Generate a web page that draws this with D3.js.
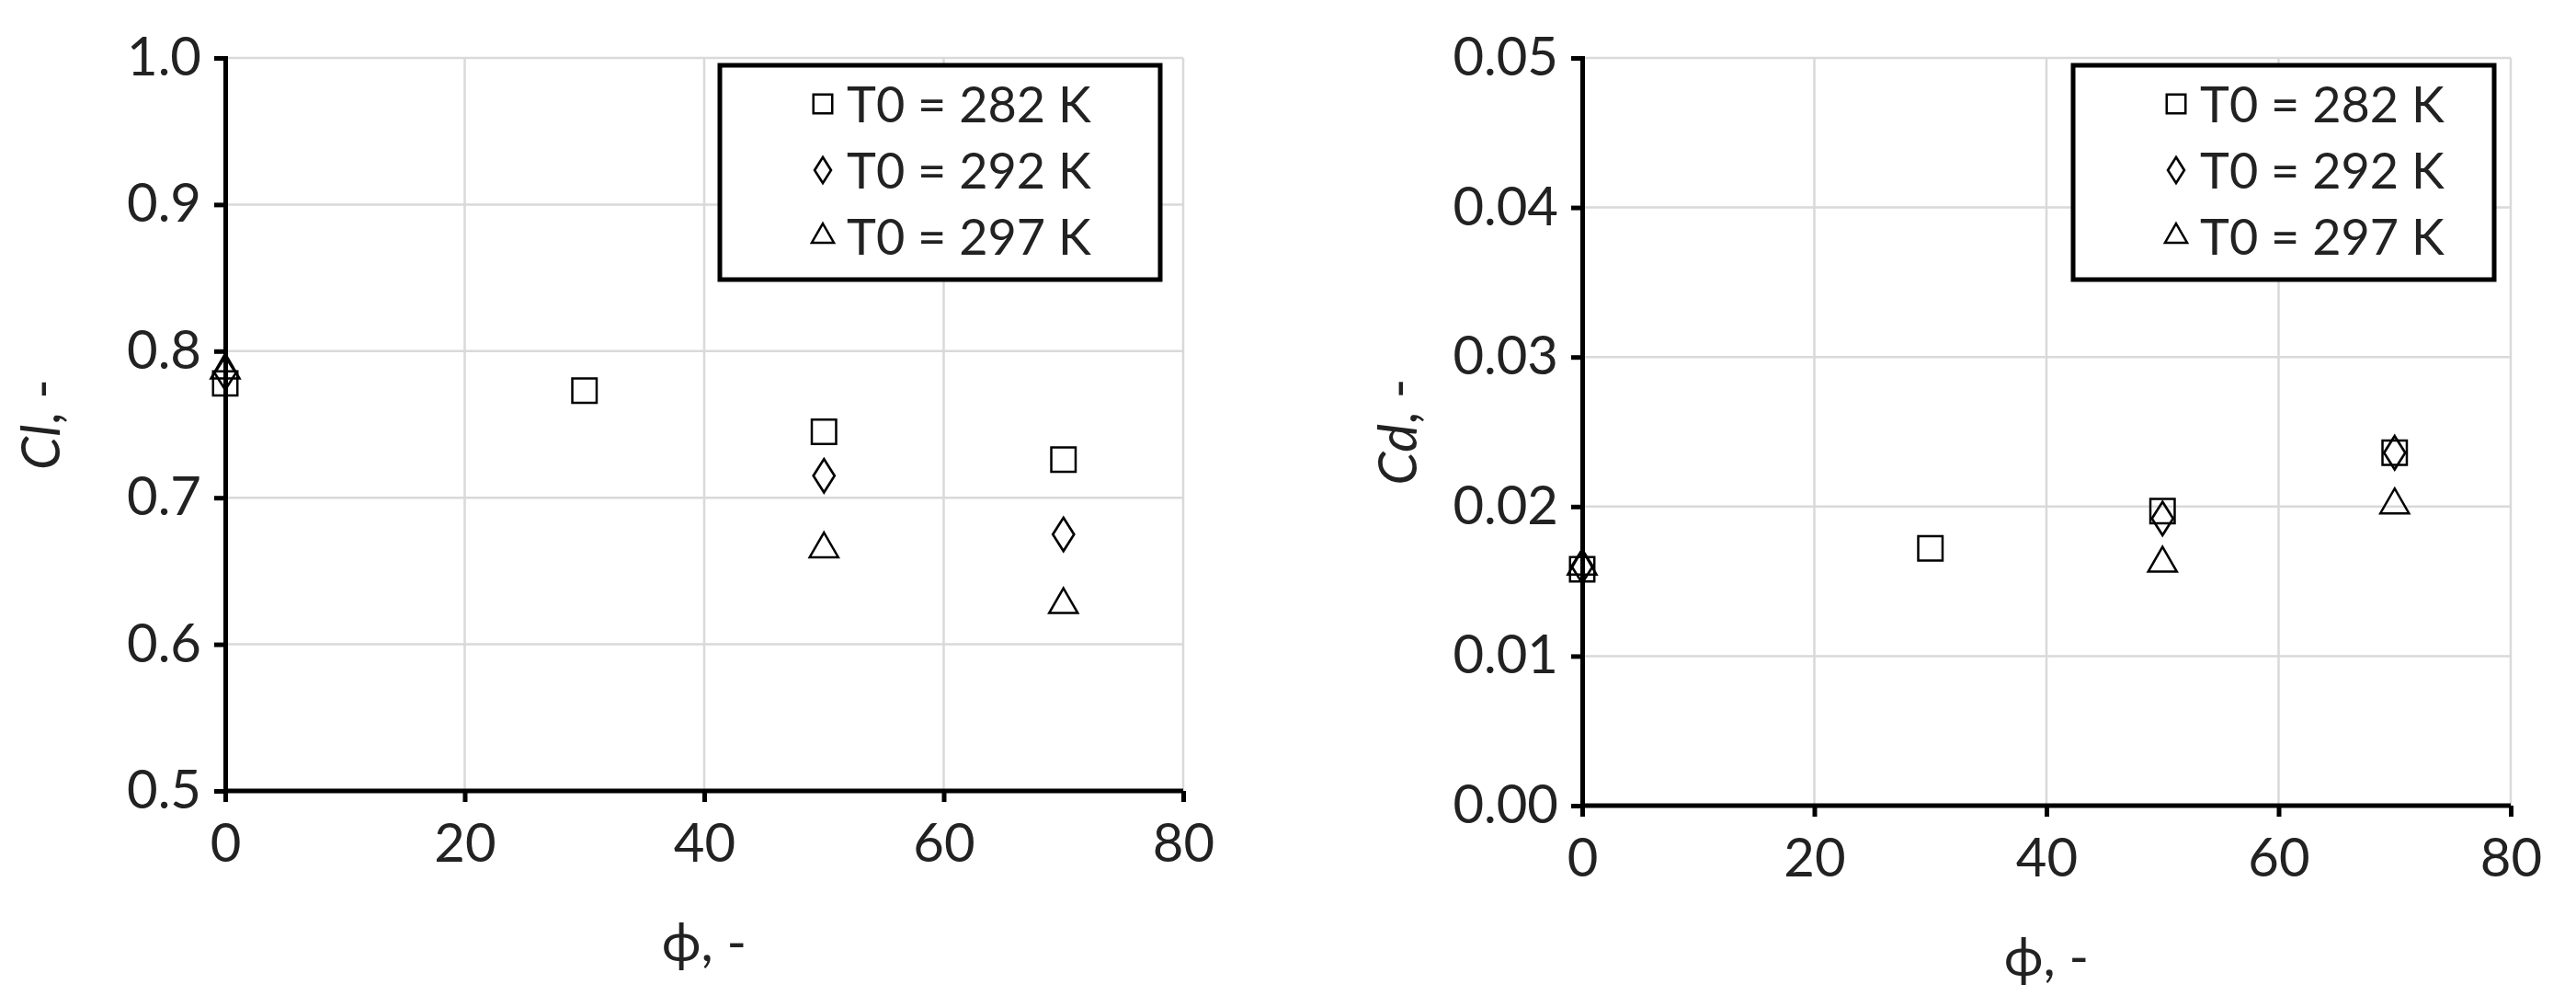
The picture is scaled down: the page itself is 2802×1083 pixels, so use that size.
<!DOCTYPE html>
<html><head><meta charset="utf-8">
<script src="https://cdn.jsdelivr.net/npm/d3@7"></script>
<style>body{margin:0;background:#fff}svg{display:block;font-family:Lato,"Open Sans",sans-serif}</style>
</head><body>
<svg id="c" width="2802" height="1083"></svg>
<script>
// --- data ---
const seriesNames = ["T0 = 282 K", "T0 = 292 K", "T0 = 297 K"];
const symbols = ["square", "diamond", "triangle"];
const xTicks = [0, 20, 40, 60, 80];
const clTicks = [0.5, 0.6, 0.7, 0.8, 0.9, 1.0];
const cdTicks = [0, 0.01, 0.02, 0.03, 0.04, 0.05];
const cl282 = [[0, 0.778], [30, 0.773], [50, 0.745], [70, 0.726]];
const cl292 = [[0, 0.785], [50, 0.715], [70, 0.675]];
const cl297 = [[0, 0.787], [50, 0.665], [70, 0.627]];
const cd282 = [[0, 0.0158], [30, 0.0172], [50, 0.0197], [70, 0.0236]];
const cd292 = [[0, 0.0160], [50, 0.0192], [70, 0.0236]];
const cd297 = [[0, 0.0160], [50, 0.0162], [70, 0.0201]];

const FS = 58;
const svg = d3.select("#c");
const symType = {square: d3.symbolSquare, diamond: d3.symbolDiamond, triangle: d3.symbolTriangle};
const symSize = {square: 700, diamond: 380, triangle: 420};

function marker(g, type, x, y, k) {
  g.append("path")
    .attr("d", d3.symbol(symType[type], symSize[type] * (k || 1))())
    .attr("transform", `translate(${x},${y})` + (type === "diamond" ? " scale(1.1,1)" : ""))
    .attr("fill", "none").attr("stroke", "#000").attr("stroke-width", 2.5);
}

function panel(o) {
  const x = d3.scaleLinear().domain([0, 80]).range([o.x0, o.x1]);
  const y = d3.scaleLinear().domain(o.domain).range([o.y1, o.y0]);
  const g = svg.append("g");
  // grid
  g.selectAll(".gx").data(xTicks.slice(1)).enter().append("line")
    .attr("x1", d => x(d)).attr("x2", d => x(d)).attr("y1", o.y0).attr("y2", o.y1)
    .attr("stroke", "#d9d9d9").attr("stroke-width", 2.5);
  g.selectAll(".gy").data(o.ticks.slice(1)).enter().append("line")
    .attr("x1", o.x0).attr("x2", o.x1).attr("y1", d => y(d)).attr("y2", d => y(d))
    .attr("stroke", "#d9d9d9").attr("stroke-width", 2.5);
  // axes
  const ax = g.append("g").attr("transform", `translate(0,${o.y1})`)
    .call(d3.axisBottom(x).tickValues(xTicks).tickSize(12).tickPadding(24));
  const ay = g.append("g").attr("transform", `translate(${o.x0},0)`)
    .call(d3.axisLeft(y).tickValues(o.ticks).tickFormat(o.fmt).tickSize(12).tickPadding(14));
  [ax, ay].forEach(a => {
    a.selectAll("path,line").attr("stroke", "#000").attr("stroke-width", 5);
    a.selectAll("text").attr("font-size", FS).attr("fill", "#222").attr("font-family", "Lato,'Open Sans',sans-serif");
  });
  ax.select(".domain").attr("d", `M${o.x0},0H${o.x1}`);
  g.append("text").attr("x", (o.x0 + o.x1) / 2).attr("y", o.y1 + 185)
    .attr("text-anchor", "middle").attr("font-size", FS).attr("fill", "#222").text("ϕ, -");
  const yl = g.append("text").attr("transform", `translate(${o.x0 - 180},${(o.y0 + o.y1) / 2}) rotate(-90)`)
    .attr("text-anchor", "middle").attr("font-size", FS).attr("fill", "#222");
  yl.append("tspan").attr("font-style", "italic").text(o.label);
  yl.append("tspan").text(", -");
  o.series.forEach((s, i) => s.forEach(d => marker(g, symbols[i], x(d[0]), y(d[1]))));
  // legend
  const L = o.legend;
  g.append("rect").attr("x", L.x).attr("y", L.y).attr("width", L.w).attr("height", L.h)
    .attr("fill", "#fff").attr("stroke", "#000").attr("stroke-width", 5);
  seriesNames.forEach((n, i) => {
    const cy = L.y + 42 + i * 72;
    marker(g, symbols[i], L.x + 112, cy, 0.6);
    g.append("text").attr("x", L.x + 138).attr("y", cy + 20).attr("font-size", FS - 4).attr("fill", "#222").text(n);
  });
}

panel({x0: 245, x1: 1287, y0: 63, y1: 860, domain: [0.5, 1.0], ticks: clTicks, fmt: d3.format(".1f"),
  label: "Cl", series: [cl282, cl292, cl297], legend: {x: 783, y: 71, w: 479, h: 233}});
panel({x0: 1721, x1: 2731, y0: 63, y1: 876, domain: [0, 0.05], ticks: cdTicks, fmt: d3.format(".2f"),
  label: "Cd", series: [cd282, cd292, cd297], legend: {x: 2255, y: 71, w: 458, h: 233}});
</script>
</body></html>
